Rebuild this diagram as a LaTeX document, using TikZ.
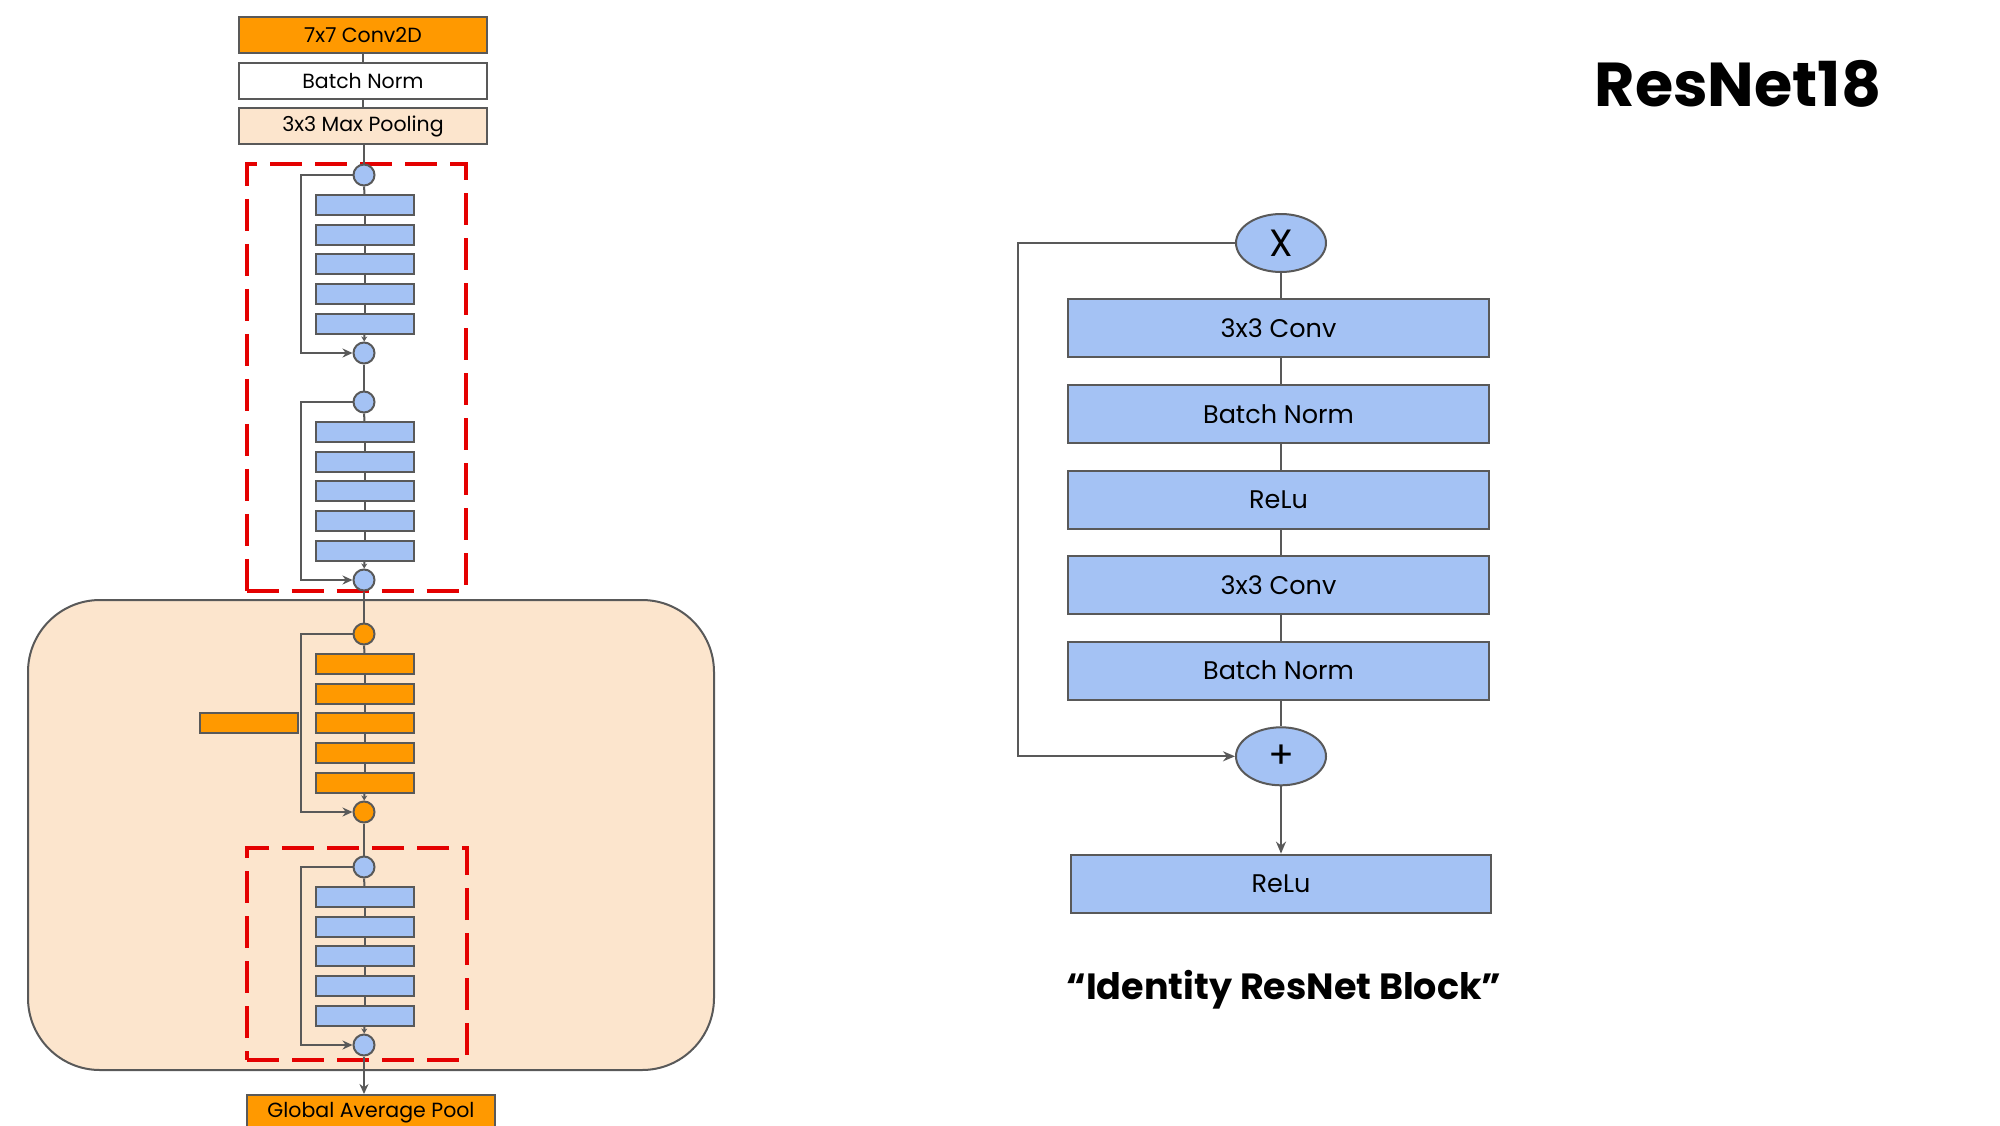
\documentclass[tikz,border=0pt]{standalone}
\usepackage{fontspec}
\setmainfont{Poppins}
\usetikzlibrary{shapes.geometric,arrows.meta}
\definecolor{lgray}{HTML}{595959}
\definecolor{lorange}{HTML}{FF9900}
\definecolor{lblue}{HTML}{A4C2F4}
\definecolor{lpeach}{HTML}{FCE5CD}
\definecolor{lred}{RGB}{228,0,0}
\tikzset{
  ln/.style={draw=lgray, line width=2pt},
  smalltip/.style={-{Stealth[length=10pt,width=9pt]}},
  bigtip/.style={-{Stealth[length=12pt,width=10pt]}},
  topbox/.style={draw=lgray, line width=2pt, minimum width=248, minimum height=36, inner sep=0,
     font=\fontsize{20.5}{24}\selectfont},
  sbox/.style={draw=lgray, line width=2pt, minimum width=98, minimum height=20, inner sep=0},
  scirc/.style={circle, draw=lgray, line width=2pt, minimum size=21, inner sep=0},
  dashbox/.style={draw=lred, line width=4pt, dash pattern=on 32pt off 13pt, inner sep=0},
  bigbox/.style={draw=lgray, line width=2pt, fill=lblue, minimum width=421, minimum height=58, inner sep=0,
     font=\fontsize{25.5}{30}\selectfont},
  bigell/.style={ellipse, draw=lgray, line width=2pt, fill=lblue, minimum width=90, minimum height=58, inner sep=0,
     font=\fontsize{38}{40}\selectfont},
}
% #1 prefix, #2 y of top circle, #3 fill colour
\newcommand\resblk[3]{%
  \node[scirc, fill=#3] (#1t) at (364,#2) {};
  \foreach \k in {1,...,5}{
    \node[sbox, fill=#3] (#1b\k) at ({364.5},{#2+30+(\k-1)*29.7}) {};
  }
  \node[scirc, fill=#3] (#1e) at ({364},{#2+178}) {};
  \draw[ln] (#1t) -- (#1b1);
  \draw[ln] (#1b1) -- (#1b2);
  \draw[ln] (#1b2) -- (#1b3);
  \draw[ln] (#1b3) -- (#1b4);
  \draw[ln] (#1b4) -- (#1b5);
  \draw[ln, -{Stealth[length=5pt,width=6pt]}] (#1b5) -- (#1e);
  \draw[ln, smalltip] (#1t.west) -- ++(-52,0) |- (#1e.west);
}
\begin{document}
\begin{tikzpicture}[x=1pt, y=-1pt]
\useasboundingbox (0,0) rectangle (2000,1125);
\fill[white] (0,0) rectangle (2000,1125);

% background stage
\node[draw=lgray, line width=2pt, fill=lpeach, rounded corners=72, minimum width=686, minimum height=470, inner sep=0]
  (stage) at (371,835) {};

% red dashed groups
\node[dashbox, minimum width=219, minimum height=427] (grp1) at (356,377.4) {};
\node[dashbox, minimum width=220, minimum height=212] (grp2) at (357,954) {};

% stem
\node[topbox, fill=lorange] (conv) at (363,35) {7x7 Conv2D};
\node[topbox, fill=white] (bn) at (363,81) {Batch Norm};
\node[topbox, fill=lpeach] (pool) at (363,126) {3x3 Max Pooling};
\draw[ln] (conv) -- (bn);
\draw[ln] (bn) -- (pool);

\resblk{A}{175}{lblue}
\resblk{B}{402}{lblue}
\resblk{O}{634}{lorange}
\resblk{C}{867}{lblue}

\node[sbox, fill=lorange] (side) at (249,723.4) {};

\draw[ln] (pool.south -| At.north) -- (At);
\draw[ln] (Ae) -- (Bt);
\draw[ln] (Be) -- (Ot);
\draw[ln] (Oe) -- (Ct);

\node[topbox, fill=lorange] (gap) at (371,1113) {Global Average Pool};
\draw[ln, smalltip] (Ce) -- (Ce.south |- gap.north);

% identity block
\node[bigell] (x) at (1281,243) {X};
\node[bigbox] (c1) at (1278.5,328.3) {3x3 Conv};
\node[bigbox] (n1) at (1278.5,413.8) {Batch Norm};
\node[bigbox] (r1) at (1278.5,499.8) {ReLu};
\node[bigbox] (c2) at (1278.5,585.4) {3x3 Conv};
\node[bigbox] (n2) at (1278.5,670.5) {Batch Norm};
\node[bigell] (plus) at (1281,756.3) {+};
\node[bigbox, minimum width=420] (r2) at (1281,883.6) {ReLu};

\draw[ln] (x.south) -- (x.south |- c1.north);
\draw[ln] (x.south |- c1.south) -- (x.south |- n1.north);
\draw[ln] (x.south |- n1.south) -- (x.south |- r1.north);
\draw[ln] (x.south |- r1.south) -- (x.south |- c2.north);
\draw[ln] (x.south |- c2.south) -- (x.south |- n2.north);
\draw[ln] (x.south |- n2.south) -- (plus.north);
\draw[ln, bigtip] (plus.south) -- (r2.north);
\draw[ln, bigtip] (x.west) -- ++(-217,0) |- (plus.west);

\node[font=\fontsize{36.5}{40}\selectfont\bfseries] (cap) at (1284,990) {“Identity ResNet Block”};
\node[font=\fontsize{62}{64}\selectfont\bfseries] (title) at (1738,84) {ResNet18};
\end{tikzpicture}
\end{document}
